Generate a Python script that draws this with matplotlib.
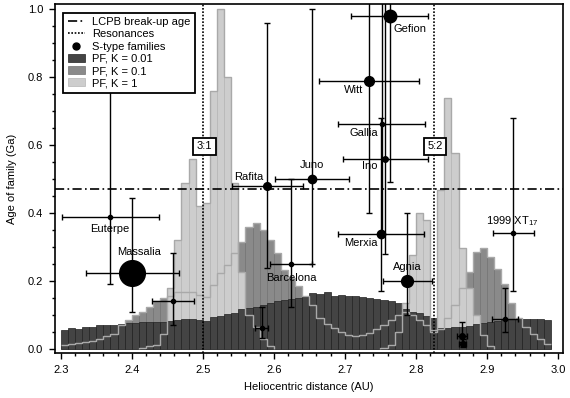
import numpy as np
import matplotlib
matplotlib.use("Agg")
import matplotlib.pyplot as plt
from matplotlib.lines import Line2D
from matplotlib.patches import Patch

plt.rcParams["font.family"] = ["Liberation Sans", "DejaVu Sans"]
plt.rcParams["mathtext.fontset"] = "custom"
plt.rcParams["mathtext.rm"] = "Liberation Sans"
plt.rcParams["font.size"] = 8

# histogram bins (AU), 69 bins of 0.01 starting at 2.30
bin_w = 0.01
bin_edges = np.round(2.30 + bin_w * np.arange(69), 2)

# PF, K = 0.01
pf_k001 = [0.056, 0.062, 0.060, 0.066, 0.066, 0.070, 0.070, 0.072, 0.074, 0.077,
           0.077, 0.079, 0.079, 0.080, 0.079, 0.081, 0.085, 0.087, 0.088, 0.084,
           0.082, 0.094, 0.097, 0.104, 0.107, 0.117, 0.122, 0.124, 0.130, 0.136,
           0.140, 0.145, 0.147, 0.150, 0.154, 0.166, 0.162, 0.167, 0.157, 0.158,
           0.157, 0.155, 0.153, 0.150, 0.146, 0.143, 0.140, 0.135, 0.118, 0.110,
           0.105, 0.098, 0.090, 0.061, 0.062, 0.064, 0.066, 0.069, 0.073, 0.076,
           0.080, 0.083, 0.085, 0.087, 0.087, 0.088, 0.087, 0.087, 0.085]
# PF, K = 0.1
pf_k01 = [0.012, 0.014, 0.017, 0.020, 0.025, 0.030, 0.038, 0.045, 0.070, 0.085,
          0.100, 0.110, 0.125, 0.140, 0.150, 0.155, 0.168, 0.168, 0.168, 0.160,
          0.154, 0.188, 0.223, 0.247, 0.282, 0.316, 0.360, 0.370, 0.350, 0.320,
          0.282, 0.233, 0.210, 0.185, 0.155, 0.130, 0.090, 0.075, 0.062, 0.050,
          0.040, 0.038, 0.040, 0.048, 0.058, 0.070, 0.085, 0.100, 0.110, 0.100,
          0.085, 0.070, 0.055, 0.060, 0.090, 0.130, 0.180, 0.228, 0.287, 0.297,
          0.272, 0.235, 0.190, 0.135, 0.090, 0.066, 0.045, 0.030, 0.015]
# PF, K = 1
pf_k1 = [0.0, 0.0, 0.0, 0.0, 0.0, 0.0, 0.0, 0.0, 0.0, 0.0,
         0.0, 0.002, 0.008, 0.012, 0.045, 0.180, 0.320, 0.490, 0.560, 0.420,
         0.430, 0.760, 1.000, 0.800, 0.490, 0.228, 0.100, 0.065, 0.030, 0.008,
         0.0, 0.0, 0.0, 0.0, 0.0, 0.0, 0.0, 0.0, 0.0, 0.0,
         0.0, 0.0, 0.0, 0.0, 0.0, 0.002, 0.012, 0.050, 0.134, 0.277,
         0.400, 0.380, 0.050, 0.468, 0.738, 0.578, 0.297, 0.180, 0.100, 0.040,
         0.010, 0.0, 0.0, 0.0, 0.0, 0.0, 0.0, 0.0, 0.0]

# S-type families: distance, age, errors
fam_a = [2.370, 2.401, 2.458, 2.583, 2.591, 2.624, 2.654, 2.763,
         2.734, 2.752, 2.757, 2.751, 2.788, 2.937, 2.925, 2.865, 2.866]
fam_age = [0.390, 0.223, 0.141, 0.061, 0.480, 0.250, 0.500, 0.981,
           0.790, 0.662, 0.560, 0.339, 0.200, 0.341, 0.088, 0.039, 0.015]
fam_da = [0.068, 0.065, 0.030, 0.009, 0.050, 0.030, 0.052, 0.054,
          0.070, 0.061, 0.060, 0.061, 0.035, 0.029, 0.018, 0.0065, 0.005]
fam_age_lo = [0.200, 0.113, 0.070, 0.030, 0.240, 0.125, 0.250, 0.490,
              0.390, 0.330, 0.280, 0.167, 0.100, 0.169, 0.037, 0.019, 0.008]
fam_age_hi = [0.390, 0.222, 0.141, 0.062, 0.480, 0.250, 0.500, 0.980,
              0.790, 0.660, 0.560, 0.342, 0.200, 0.339, 0.092, 0.041, 0.015]
fam_msize = [3, 18.5, 3, 3, 5.5, 3, 6, 9, 7, 3, 4, 6, 8.5, 3, 3, 4, 4]

# family name labels (AU, Ga)
lab_names = ["Euterpe", "Massalia", "Rafita", "Barcelona", "Juno", "Gefion",
             "Witt", "Gallia", "Ino", "Merxia", "Agnia", "1999 XT$_{17}$"]
lab_a = [2.369, 2.411, 2.564, 2.625, 2.654, 2.791, 2.712, 2.726, 2.735, 2.723, 2.788, 2.935]
lab_age = [0.353, 0.287, 0.508, 0.208, 0.542, 0.944, 0.763, 0.635, 0.539, 0.313, 0.242, 0.377]

resonances = [2.500, 2.825]
res_labels = ["3:1", "5:2"]
lcpb_age = 0.47

COL_K001 = "#444444"
COL_K01 = "#8a8a8a"
COL_K1 = "#cdcdcd"
COL_OUTLINE = "#a9a9a9"

fig = plt.figure(figsize=(5.7, 3.98), dpi=100)
ax = fig.add_axes([0.0965, 0.1123, 0.8912, 0.8769])

ax.bar(bin_edges, pf_k01, width=bin_w, align="edge", color=COL_K01, edgecolor="#727272", linewidth=0.5, zorder=1)
ax.bar(bin_edges, pf_k1, width=bin_w, align="edge", color=COL_K1, edgecolor="#b5b5b5", linewidth=0.5, zorder=2)
ax.bar(bin_edges, pf_k001, width=bin_w, align="edge", color=COL_K001, edgecolor="#222222", linewidth=0.5, zorder=3)

# outlines of the partly hidden histograms
edges_full = np.append(bin_edges, bin_edges[-1] + bin_w)
ax.stairs(pf_k01, edges_full, baseline=None, color=COL_OUTLINE, lw=1.0, zorder=4)
k1 = np.array(pf_k1)
nz = k1 > 0
start = None
for i in range(len(k1) + 1):
    on = i < len(k1) and nz[i]
    if on and start is None:
        start = i
    if not on and start is not None:
        ax.stairs(k1[start:i], edges_full[start:i + 1], baseline=0, color=COL_OUTLINE, lw=1.0, zorder=4)
        start = None

# LCPB age and resonances
ax.axhline(lcpb_age, color="black", lw=1.2, dashes=(5.5, 2, 1, 2), zorder=5)
for r, lab in zip(resonances, res_labels):
    ax.axvline(r, color="black", lw=1.2, linestyle=(0, (1, 1)), zorder=5)
    ax.text(r + 0.0025, 0.597, lab, ha="center", va="center", fontsize=8, zorder=8,
            bbox=dict(boxstyle="square,pad=0.3", fc="white", ec="black", lw=1.3))

# families
for a, age, da, lo, hi, ms in zip(fam_a, fam_age, fam_da, fam_age_lo, fam_age_hi, fam_msize):
    ax.errorbar(a, age, xerr=da, yerr=[[lo], [hi]], fmt="o", color="black", ms=ms,
                elinewidth=1.0, capsize=2.5, capthick=1.0, zorder=6)
for a, age, name in zip(lab_a, lab_age, lab_names):
    ax.text(a, age, name, ha="center", va="center", fontsize=8, zorder=7)

ax.set_xlim(2.292, 3.007)
ax.set_ylim(-0.0127, 1.0153)
ax.set_xticks(np.round(2.3 + 0.1 * np.arange(8), 1))
ax.set_xticks(np.round(2.3 + 0.02 * np.arange(36), 2), minor=True)
ax.set_yticks(np.round(0.2 * np.arange(6), 1))
ax.set_yticks(np.round(0.05 * np.arange(21), 2), minor=True)
ax.xaxis.set_major_formatter(matplotlib.ticker.FormatStrFormatter("%.1f"))
ax.yaxis.set_major_formatter(matplotlib.ticker.FormatStrFormatter("%.1f"))
ax.tick_params(which="both", direction="out", top=False, right=False, labelsize=8, width=1.0)
ax.tick_params(which="major", length=4, pad=4.5)
ax.tick_params(which="minor", length=2.5)
for s in ax.spines.values():
    s.set_linewidth(1.2)
ax.set_xlabel("Heliocentric distance (AU)", fontsize=8, labelpad=5)
ax.set_ylabel("Age of family (Ga)", fontsize=8, labelpad=8)

handles = [
    Line2D([], [], color="black", lw=1.2, dashes=(5.5, 2, 1, 2)),
    Line2D([], [], color="black", lw=1.2, linestyle=(0, (1, 1))),
    Line2D([], [], color="black", marker="o", ms=5, lw=0),
    Patch(facecolor=COL_K001, edgecolor="#222222", lw=0.5),
    Patch(facecolor=COL_K01, edgecolor="#727272", lw=0.5),
    Patch(facecolor=COL_K1, edgecolor="#b5b5b5", lw=0.5),
]
labels = ["LCPB break-up age", "Resonances", "S-type families",
          "PF, K = 0.01", "PF, K = 0.1", "PF, K = 1"]
leg = ax.legend(handles, labels, loc="upper left", bbox_to_anchor=(0.016, 0.976),
                borderaxespad=0, fontsize=8, frameon=True, fancybox=False,
                labelspacing=0.2, handlelength=1.6, handleheight=0.7,
                handletextpad=0.6, borderpad=0.4)
leg.get_frame().set_edgecolor("black")
leg.get_frame().set_linewidth(1.3)
leg.get_frame().set_alpha(1)
leg.set_zorder(10)

fig.savefig("out.png", dpi=100)
